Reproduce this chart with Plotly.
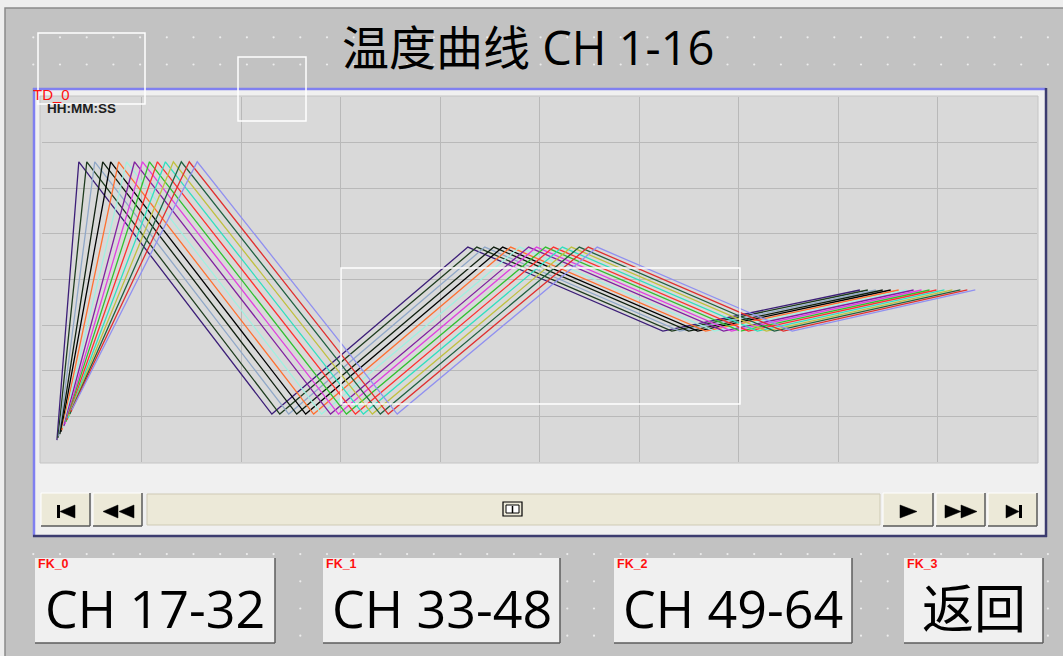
import numpy as np
import plotly.graph_objects as go

W, H = 1063, 656

# ---------------- data (time 0-100, temperature 0-80) ----------------
channels = [f"CH{i}" for i in range(1, 17)]
colors = ["#3c1e78", "#1e3c1e", "#90a8c8", "#102010", "#000000", "#ff7030",
          "#a0f0e0", "#8020a0", "#e040e0", "#30c030", "#ff3030", "#30e0c0",
          "#c0c040", "#206040", "#e03030", "#9090f0"]

t_start   = [1.5, 1.6, 1.7, 1.8, 1.9, 2.0, 2.1, 2.2, 2.3, 2.4, 2.5, 2.6, 2.7, 2.8, 2.9, 3.0]
temp_start = [4.8, 5.3, 5.7, 6.1, 6.6, 7.0, 7.5, 7.9, 8.3, 8.8, 9.2, 9.6, 10.1, 10.5, 11.0, 11.4]
t_peak1   = [3.7, 4.5, 5.3, 6.1, 6.9, 7.7, 8.5, 9.3, 10.1, 10.8, 11.6, 12.4, 13.2, 14.0, 14.8, 15.6]
temp_peak1 = [65.8, 65.8, 65.8, 65.8, 65.8, 65.8, 65.8, 65.8, 65.8, 65.8, 65.8, 65.8, 65.8, 65.8, 65.8, 65.8]
t_valley1 = [23.1, 23.9, 24.8, 25.6, 26.5, 27.3, 28.1, 29.0, 29.8, 30.6, 31.5, 32.3, 33.2, 34.0, 34.8, 35.7]
temp_valley1 = [10.5, 10.5, 10.5, 10.5, 10.5, 10.5, 10.5, 10.5, 10.5, 10.5, 10.5, 10.5, 10.5, 10.5, 10.5, 10.5]
t_peak2   = [42.8, 43.7, 44.5, 45.4, 46.3, 47.1, 48.0, 48.9, 49.7, 50.6, 51.4, 52.3, 53.2, 54.0, 54.9, 55.8]
temp_peak2 = [47.1, 47.1, 47.1, 47.1, 47.1, 47.1, 47.1, 47.1, 47.1, 47.1, 47.1, 47.1, 47.1, 47.1, 47.1, 47.1]
t_valley2 = [62.4, 63.3, 64.1, 65.0, 65.9, 66.7, 67.6, 68.5, 69.3, 70.2, 71.0, 71.9, 72.8, 73.6, 74.5, 75.4]
temp_valley2 = [28.7, 28.7, 28.7, 28.7, 28.7, 28.7, 28.7, 28.7, 28.7, 28.7, 28.7, 28.7, 28.7, 28.7, 28.7, 28.7]
t_end     = [82.2, 83.0, 83.8, 84.5, 85.3, 86.1, 86.9, 87.6, 88.4, 89.2, 89.9, 90.7, 91.5, 92.3, 93.0, 93.8]
temp_end  = [37.7, 37.7, 37.7, 37.7, 37.7, 37.7, 37.7, 37.7, 37.7, 37.7, 37.7, 37.7, 37.7, 37.7, 37.7, 37.7]

title_text = "温度曲线 CH 1-16"
button_texts = ["CH 17-32", "CH 33-48", "CH 49-64", "返回"]
button_ids = ["FK_0", "FK_1", "FK_2", "FK_3"]

# ---------------- helpers (pixel -> paper) ----------------
def X(px):
    return px / W

def Y(py):
    return 1 - py / H

shapes = []
annotations = []

def rect(x0, y0, x1, y1, fill="rgba(0,0,0,0)", line="rgba(0,0,0,0)", lw=0, layer="below"):
    shapes.append(dict(type="rect", xref="paper", yref="paper", x0=X(x0), y0=Y(y1), x1=X(x1), y1=Y(y0),
                       fillcolor=fill, line=dict(color=line, width=lw), layer=layer))

def seg(x0, y0, x1, y1, color, lw=1, layer="below"):
    shapes.append(dict(type="line", xref="paper", yref="paper", x0=X(x0), y0=Y(y0), x1=X(x1), y1=Y(y1),
                       line=dict(color=color, width=lw), layer=layer))

def poly(pts, color, layer="below"):
    p = "M " + " L ".join(f"{X(a):.5f},{Y(b):.5f}" for a, b in pts) + " Z"
    shapes.append(dict(type="path", xref="paper", yref="paper", path=p, fillcolor=color,
                       line=dict(color=color, width=0.5), layer=layer))

def text(x, y, s, size, color="#000000", family="Open Sans, Noto Sans CJK SC", xanchor="center", yanchor="middle"):
    annotations.append(dict(x=X(x), y=Y(y), xref="paper", yref="paper", text=s, showarrow=False,
                            xanchor=xanchor, yanchor=yanchor, font=dict(size=size, color=color, family=family)))

# ---------------- background window ----------------
rect(5, 8, 1075, 670, fill="#c2c2c2", line="#8a8a8a", lw=1.5)

# ---------------- trend widget ----------------
rect(33, 88, 1046, 537, fill="#f0f0f0")
seg(33, 89, 1046, 89, "#8080f0", 2.5)
seg(34, 88, 34, 537, "#8080f0", 2.5)
seg(33, 536, 1047, 536, "#3c3c70", 2.5)
seg(1046, 88, 1046, 537, "#3c3c70", 2.5)
# plot area background
rect(40, 96, 1038, 463, fill="#d9d9d9", line="#c4c4c4", lw=1)

# scrollbar
def button3d(x0, y0, x1, y1, face="#ece9d8"):
    rect(x0, y0, x1, y1, fill=face)
    seg(x0, y0, x1, y0, "#ffffff", 1)
    seg(x0, y0, x0, y1, "#ffffff", 1)
    seg(x0, y1, x1, y1, "#5a5a5a", 1.5)
    seg(x1, y0, x1, y1, "#5a5a5a", 1.5)

button3d(41, 493, 90, 526)
button3d(93, 493, 142, 526)
rect(147, 494, 880, 525, fill="#ece9d8", line="#cfcab5", lw=1)
button3d(883, 493, 933, 526)
button3d(936, 493, 985, 526)
button3d(988, 493, 1037, 526)

# |<
rect(57, 505, 60, 518, fill="#000000")
poly([(75, 505), (60, 511.5), (75, 518)], "#000000")
# <<
poly([(118, 505), (103, 511.5), (118, 518)], "#000000")
poly([(134, 505), (119, 511.5), (134, 518)], "#000000")
# >
poly([(900, 505), (917, 511.5), (900, 518)], "#000000")
# >>
poly([(945, 505), (961, 511.5), (945, 518)], "#000000")
poly([(961, 505), (977, 511.5), (961, 518)], "#000000")
# >|
poly([(1006, 505), (1019, 511.5), (1006, 518)], "#000000")
rect(1019, 505, 1022, 518, fill="#000000")
# thumb icon
rect(503, 502, 522, 516, fill="#ece9d8", line="#000000", lw=1.2)
rect(506, 505, 519, 513, fill="#ffffff", line="#000000", lw=1)
seg(512.5, 506, 512.5, 513, "#000000", 1.5)

# ---------------- bottom buttons ----------------
btn_boxes = [(35, 558, 275, 643), (323, 558, 560, 643), (614, 558, 852, 643), (904, 558, 1043, 643)]
for (x0, y0, x1, y1) in btn_boxes:
    rect(x0, y0, x1, y1, fill="#f0f0f0")
    seg(x0, y1, x1, y1, "#5c5c5c", 1.5)
    seg(x1, y0, x1, y1, "#5c5c5c", 1.5)

# white design outlines (above curves)
rect(38, 33, 145, 104, line="#ffffff", lw=1.5, layer="above")
rect(238, 57, 306, 121, line="#ffffff", lw=1.5, layer="above")
rect(341, 268, 740, 404, line="#ffffff", lw=1.5, layer="above")

# ---------------- texts ----------------
text(528, 47, title_text, 47)
text(31, 94, "TD_0", 15, color="#ff1010", family="Liberation Sans", xanchor="left")
text(45, 109, "<b>HH:MM:SS</b>", 13.5, color="#202020", family="Liberation Sans", xanchor="left")
for (x0, y0, x1, y1), s, lab in zip(btn_boxes, button_texts, button_ids):
    text((x0 + x1) / 2, 607, s, 52)
    text(x0 + 1, 564, f"<b>{lab}</b>", 12.5, color="#ff1010", family="Liberation Sans", xanchor="left")

# ---------------- figure ----------------
fig = go.Figure()

# design-time dot grid (decorative, outside widgets)
gx = np.arange(33.3, W, 26.7)
gy = np.arange(37.3, H, 27.2)
GX, GY = np.meshgrid(gx, gy)
GX, GY = GX.ravel(), GY.ravel()
keep = np.ones_like(GX, dtype=bool)
for (x0, y0, x1, y1) in [(30, 85, 1050, 540)] + btn_boxes:
    keep &= ~((GX > x0 - 2) & (GX < x1 + 2) & (GY > y0 - 2) & (GY < y1 + 2))
fig.add_trace(go.Scatter(x=GX[keep], y=GY[keep], mode="markers",
                         marker=dict(size=2.2, color="#ececec"), xaxis="x2", yaxis="y2",
                         hoverinfo="skip", showlegend=False))

for i, name in enumerate(channels):
    xs = [t_start[i], t_peak1[i], t_valley1[i], t_peak2[i], t_valley2[i], t_end[i]]
    ys = [temp_start[i], temp_peak1[i], temp_valley1[i], temp_peak2[i], temp_valley2[i], temp_end[i]]
    fig.add_trace(go.Scatter(x=xs, y=ys, mode="lines", name=name,
                             line=dict(color=colors[i], width=1.3), xaxis="x", yaxis="y",
                             showlegend=False))

fig.update_layout(
    width=W, height=H, margin=dict(l=0, r=0, t=0, b=0),
    paper_bgcolor="#eeeeee", plot_bgcolor="rgba(0,0,0,0)",
    showlegend=False,
    xaxis=dict(domain=[X(42), X(1037)], range=[0, 100], dtick=10, showgrid=True, gridcolor="#b9b9b9",
               gridwidth=1, showticklabels=False, zeroline=False, showline=False, ticks="", fixedrange=True),
    yaxis=dict(domain=[Y(462), Y(97)], range=[0, 80], dtick=10, showgrid=True, gridcolor="#b9b9b9",
               gridwidth=1, showticklabels=False, zeroline=False, showline=False, ticks="", fixedrange=True),
    xaxis2=dict(domain=[0, 1], range=[0, W], visible=False, anchor="y2", fixedrange=True),
    yaxis2=dict(domain=[0, 1], range=[H, 0], visible=False, anchor="x2", fixedrange=True),
    shapes=shapes, annotations=annotations,
)

fig.write_html("out.html", config={"displayModeBar": False},
               post_script="document.body.style.margin='0px';document.body.style.overflow='hidden';")
